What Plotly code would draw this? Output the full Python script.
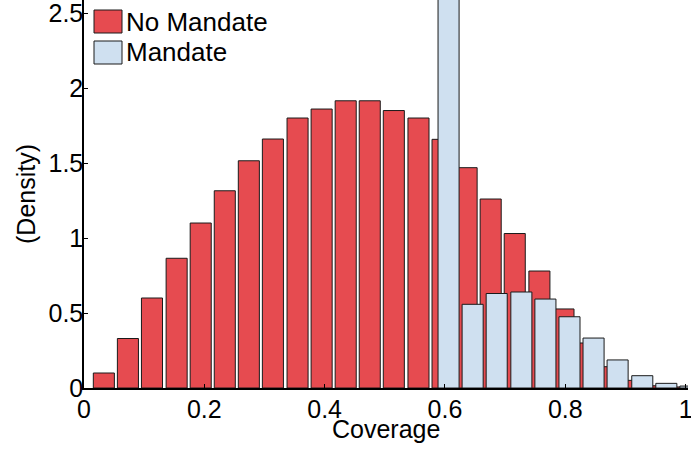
import plotly.graph_objects as go

# Bin centers (Coverage) and densities
no_mandate_x = [0.033, 0.073, 0.113, 0.154, 0.194, 0.234, 0.274, 0.314, 0.355, 0.395,
                0.435, 0.475, 0.515, 0.556, 0.596, 0.636, 0.676, 0.716, 0.757, 0.797,
                0.837, 0.877, 0.917, 0.958, 0.998]
no_mandate_y = [0.10, 0.33, 0.60, 0.865, 1.10, 1.315, 1.515, 1.66, 1.80, 1.86,
                1.915, 1.915, 1.85, 1.80, 1.658, 1.469, 1.26, 1.03, 0.78, 0.527,
                0.30, 0.142, 0.051, 0.015, 0.007]

mandate_x = [0.606, 0.646, 0.686, 0.727, 0.767, 0.807, 0.847, 0.887, 0.928, 0.968, 1.008]
mandate_y = [3.2, 0.558, 0.63, 0.64, 0.593, 0.475, 0.333, 0.187, 0.082, 0.031, 0.013]

x_ticks = [0, 0.2, 0.4, 0.6, 0.8, 1]
x_tick_labels = ["0", "0.2", "0.4", "0.6", "0.8", "1"]
y_ticks = [0, 0.5, 1, 1.5, 2, 2.5]
y_tick_labels = ["0", "0.5", "1", "1.5", "2", "2.5"]

series_names = ["No Mandate", "Mandate"]
x_title = "Coverage"
y_title = "(Density)"

RED = "#E64B50"
BLUE = "#CFE0F0"
EDGE = "#1a1a1a"
FONT = "Liberation Sans, Arial, Helvetica, sans-serif"

W, H = 691, 449
ML, MR, MT, MB = 84, 3, 0, 61

fig = go.Figure()
fig.add_trace(go.Bar(x=no_mandate_x, y=no_mandate_y, width=0.035, name=series_names[0],
                     marker=dict(color=RED, line=dict(color=EDGE, width=1))))
fig.add_trace(go.Bar(x=mandate_x, y=mandate_y, width=0.035, name=series_names[1],
                     marker=dict(color=BLUE, line=dict(color=EDGE, width=1))))

pw = W - ML - MR
ph = H - MT - MB
def px_to_paper_x(px):
    return (px - ML) / pw
def px_to_paper_y(py):
    return 1 - (py - MT) / ph

# Legend drawn as swatches + text (large square swatches as in the reference)
legend_rows = [(series_names[0], RED, 10, 33), (series_names[1], BLUE, 41, 64)]
for name, col, top, bot in legend_rows:
    fig.add_shape(type="rect", xref="paper", yref="paper",
                  x0=px_to_paper_x(94), x1=px_to_paper_x(122),
                  y0=px_to_paper_y(bot), y1=px_to_paper_y(top),
                  fillcolor=col, line=dict(color=EDGE, width=1), layer="above")
    fig.add_annotation(xref="paper", yref="paper", x=px_to_paper_x(124),
                       y=px_to_paper_y((top + bot) / 2), xanchor="left", yanchor="middle",
                       text=name, showarrow=False, font=dict(size=26))

# Axis titles
fig.add_annotation(xref="paper", yref="paper", x=0.5, y=px_to_paper_y(429),
                   xanchor="center", yanchor="middle", text=x_title, showarrow=False,
                   font=dict(size=25))
fig.add_annotation(xref="paper", yref="paper", x=px_to_paper_x(26), y=0.5,
                   xanchor="center", yanchor="middle", text=y_title, showarrow=False,
                   textangle=-90, font=dict(size=25))

fig.update_layout(
    width=W, height=H,
    margin=dict(l=ML, r=MR, t=MT, b=MB),
    barmode="overlay",
    plot_bgcolor="white", paper_bgcolor="white",
    font=dict(family=FONT, color="black", size=25),
    showlegend=False,
    xaxis=dict(range=[0, 1.004], tickvals=x_ticks, ticktext=x_tick_labels,
               ticks="inside", ticklen=4, tickcolor="black",
               showline=True, linecolor="black", linewidth=1.5,
               showgrid=False, zeroline=False, automargin=False,
               ticklabeloverflow="allow", ticklabelstandoff=-2,
               tickfont=dict(size=25)),
    yaxis=dict(range=[0, 2.587], tickvals=y_ticks, ticktext=y_tick_labels,
               ticks="inside", ticklen=4, tickcolor="black",
               showline=True, linecolor="black", linewidth=1.5,
               showgrid=False, zeroline=False, automargin=False,
               ticklabeloverflow="allow", ticklabelstandoff=-6,
               tickfont=dict(size=25)),
)

fig.write_html("out.html", config={"displayModeBar": False},
               post_script="document.body.style.margin='0';document.body.style.overflow='hidden';")
